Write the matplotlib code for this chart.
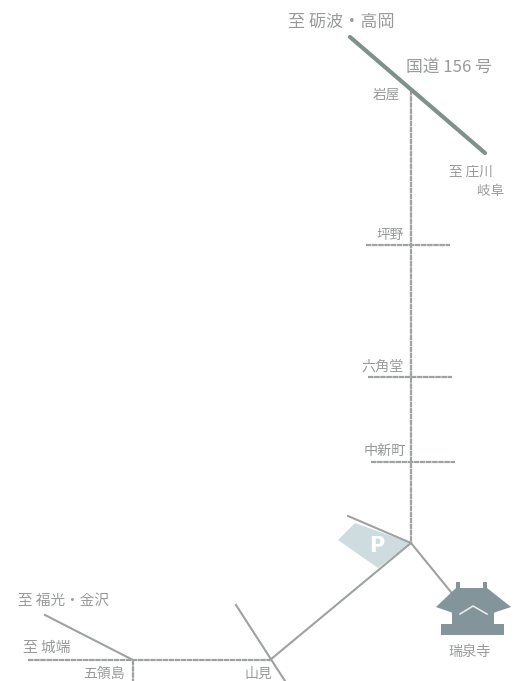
import matplotlib
matplotlib.use('Agg')
import matplotlib.pyplot as plt
from matplotlib.patches import Polygon

plt.rcParams['font.family'] = ['Noto Sans CJK JP', 'DejaVu Sans']

# labels: text, x, y, size
labels = [
    ('至 砺波・高岡', 341, 21.5, 12.3),
    ('国道 156 号', 449, 67, 12.1),
    ('岩屋', 386, 95, 9.8),
    ('至 庄川', 471, 172, 9.8),
    ('岐阜', 491, 191, 9.8),
    ('坪野', 390, 235, 9.8),
    ('六角堂', 383, 367, 10.2),
    ('中新町', 385, 451, 10.2),
    ('瑞泉寺', 470, 652, 10.2),
    ('至 福光・金沢', 63, 601, 10.5),
    ('至 城端', 47, 648, 10.6),
    ('五領島', 104, 673.5, 10),
    ('山見', 258, 673.5, 10),
]

# roads, in pixels of the map
highway = ([350, 485], [37, 153])
dashed_roads = [
    ([411, 411], [90, 543]),
    ([366, 450], [244.5, 244.5]),
    ([368, 452], [377, 377]),
    ([371, 455], [462, 462]),
    ([28, 270], [660, 660]),
    ([133, 133], [660, 681]),
]
solid_roads = [
    ([411, 270], [543, 660]),
    ([348, 411], [516, 543]),
    ([411, 455], [543, 597]),
    ([45, 133], [615, 660]),
    ([236, 285], [605, 681]),
]

parking = [(338, 540), (355, 523), (411, 543), (378, 568)]
temple_roof = [(436, 607), (456, 588), (487, 588), (511, 607), (493, 613), (453, 613)]
temple_body = [(452, 612), (494, 612), (494, 625), (452, 625)]
temple_base = [(441, 624), (504, 624), (504, 635), (441, 635)]
temple_spike_l = [(456, 582), (460, 582), (460, 590), (456, 590)]
temple_spike_r = [(483, 582), (487, 582), (487, 590), (483, 590)]
chevron = ([460, 473, 487], [614, 606, 614])

fig = plt.figure(figsize=(5.14, 6.81), dpi=100)
ax = fig.add_axes([0, 0, 1, 1])
ax.set_xlim(0, 514)
ax.set_ylim(681, 0)
ax.axis('off')

road_col = '#9ea2a1'
text_col = '#999b9b'
temple_col = '#84949b'

ax.add_patch(Polygon(parking, closed=True, fc='#cfdcdf', ec='none', zorder=1))
ax.text(377, 546, 'P', color='white', fontsize=15, fontweight='bold', family='DejaVu Sans',
        ha='center', va='center', zorder=2)

for xs, ys in dashed_roads:
    ax.plot(xs, ys, color=road_col, lw=1.6, ls=(0, (2.5, 0.25)), zorder=3)
for xs, ys in solid_roads:
    ax.plot(xs, ys, color=road_col, lw=1.5, zorder=3)
ax.plot(highway[0], highway[1], color='#80918c', lw=3, solid_capstyle='round', zorder=4)

for pts in [temple_roof, temple_body, temple_base, temple_spike_l, temple_spike_r]:
    ax.add_patch(Polygon(pts, closed=True, fc=temple_col, ec='none', zorder=5))
ax.plot(chevron[0], chevron[1], color='#e4eaea', lw=1.2, zorder=6)

for txt, x, y, size in labels:
    ax.text(x, y, txt, fontsize=size, color=text_col, ha='center', va='center', zorder=7)

fig.savefig('out.png', dpi=100, facecolor='white')
